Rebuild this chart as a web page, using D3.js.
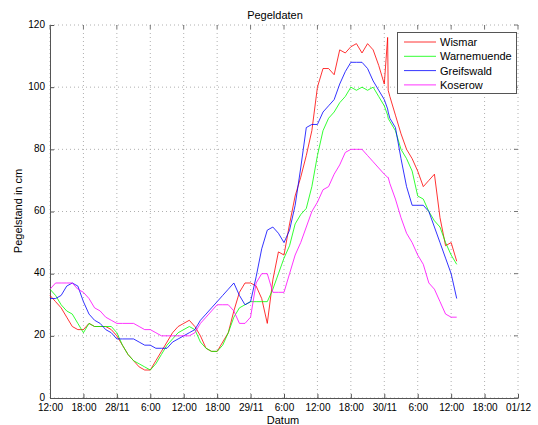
<!DOCTYPE html>
<html>
<head>
<meta charset="utf-8">
<script src="https://cdn.jsdelivr.net/npm/d3@7"></script>
<style>
	body { margin: 0; background: #fff; }
	text { font-family: "Liberation Sans", Arial, sans-serif; fill: #000; }
</style>
</head>
<body>
<svg width="538" height="425"></svg>
<script>
// hours since 27/11 12:00
var hours = [0, 1, 2, 3, 4, 5, 6, 7, 8, 9, 10, 11, 12, 13, 14, 15, 16, 17, 18, 19,
	20, 21, 22, 23, 24, 25, 26, 27, 28, 29, 30, 31, 32, 33, 34, 35, 36, 37, 38, 39,
	40, 41, 42, 43, 44, 45, 46, 47, 48, 49, 50, 51, 52, 53, 54, 55, 56, 57, 58, 59,
	60, 60.6, 60.7, 61, 62, 63, 64, 65, 66, 67, 68, 69, 70, 71, 72, 73]

var wismar = [33, 31, 29, 26, 23, 22, 22, 24, 23, 23, 23, 22, 20, 17, 14, 12, 10, 9, 9, 12,
	15, 18, 21, 23, 24, 25, 23, 20, 16, 15, 15, 18, 21, 28, 34, 37, 37, 36, 32, 24,
	38, 47, 46, 56, 65, 71, 78, 86, 100, 106, 106, 104, 112, 111, 113, 114, 111, 114, 112, 107,
	101, 116, 99, 97, 91, 85, 80, 77, 73, 68, 70, 72, 58, 49, 50, 44]

var warnemuende = [35, 33, 30, 28, 27, 24, 21, 24, 23, 23, 23, 23, 21, 17, 14, 12, 11, 10, 9, 11,
	14, 17, 19, 21, 22, 23, 22, 18, 16, 15, 15, 17, 21, 26, 29, 30, 31, 31, 31, 31,
	35, 40, 45, 49, 56, 59, 61, 68, 78, 86, 90, 92, 95, 97, 100, 99, 100, 99, 100, 97,
	94, 91, 90, 89, 86, 80, 77, 73, 65, 64, 60, 57, 55, 50, 46, 43]

var greifswald = [32, 32, 33, 36, 37, 36, 31, 27, 25, 24, 22, 21, 19, 19, 19, 19, 18, 17, 17, 16,
	16, 16, 18, 19, 20, 21, 22, 25, 27, 29, 31, 33, 35, 37, 33, 30, 31, 39, 48, 54,
	55, 53, 50, 54, 62, 74, 87, 88, 88, 92, 94, 96, 101, 105, 108, 108, 108, 106, 102, 99,
	96, 93, 92, 90, 87, 77, 68, 62, 62, 62, 60, 55, 50, 45, 40, 32]

var koserow = [35, 37, 37, 37, 37, 35, 34, 32, 29, 28, 26, 25, 24, 24, 24, 24, 23, 22, 22, 21,
	20, 20, 20, 20, 20, 20, 21, 24, 26, 28, 30, 30, 30, 28, 24, 24, 26, 37, 40, 40,
	34, 34, 34, 40, 46, 50, 55, 60, 63, 67, 68, 72, 75, 79, 80, 80, 80, 78, 76, 74,
	72, 71, 71, 69, 64, 58, 53, 50, 46, 43, 37, 35, 31, 27, 26, 26]

var seriesNames = ["Wismar", "Warnemuende", "Greifswald", "Koserow"]
var seriesColors = ["#ff0000", "#00ff00", "#0000ff", "#ff00ff"]
var seriesValues = [wismar, warnemuende, greifswald, koserow]

var xTickHours = [0, 6, 12, 18, 24, 30, 36, 42, 48, 54, 60, 66, 72, 78, 84]
var xTickLabels = ["12:00", "18:00", "28/11", "6:00", "12:00", "18:00", "29/11", "6:00",
	"12:00", "18:00", "30/11", "6:00", "12:00", "18:00", "01/12"]
var yTicks = [0, 20, 40, 60, 80, 100, 120]

function drawChart() {
	var pLeft = 50, pRight = 518, pTop = 25, pBottom = 398

	var x = d3.scaleLinear().domain([0, 84]).range([pLeft, pRight])
	var y = d3.scaleLinear().domain([0, 120]).range([pBottom, pTop])

	var svg = d3.select("svg")

	// grid
	var grid = svg.append("g")
	xTickHours.forEach(function(h) {
		grid.append("line")
			.attr("x1", x(h)).attr("x2", x(h))
			.attr("y1", pTop).attr("y2", pBottom)
			.attr("stroke", "#b0b0b0").attr("stroke-width", 1)
			.attr("stroke-dasharray", "1,3")
	})
	yTicks.forEach(function(v) {
		grid.append("line")
			.attr("x1", pLeft).attr("x2", pRight)
			.attr("y1", y(v)).attr("y2", y(v))
			.attr("stroke", "#b0b0b0").attr("stroke-width", 1)
			.attr("stroke-dasharray", "1,3")
	})

	// axes
	svg.append("g")
		.attr("transform", "translate(0," + pBottom + ")")
		.call(d3.axisBottom(x).tickValues(xTickHours).tickSizeInner(-4).tickSizeOuter(0).tickPadding(6)
			.tickFormat(function(d, i) { return xTickLabels[i] }))
	var yAxisG = svg.append("g")
		.attr("transform", "translate(" + pLeft + ",0)")
		.call(d3.axisLeft(y).tickValues(yTicks).tickSizeInner(-4).tickSizeOuter(0).tickPadding(5))
	yAxisG.selectAll(".tick text").attr("dy", "0.2em")

	svg.selectAll(".domain").attr("stroke", "#555")
	svg.selectAll(".tick line").attr("stroke", "#555")
	svg.selectAll(".tick text").attr("font-size", "10px").attr("font-family", "Liberation Sans, Arial, sans-serif")

	// small ticks along top and right
	xTickHours.forEach(function(h) {
		svg.append("line").attr("x1", x(h)).attr("x2", x(h)).attr("y1", pTop).attr("y2", pTop + 4)
			.attr("stroke", "#777")
	})
	yTicks.forEach(function(v) {
		svg.append("line").attr("x1", pRight - 4).attr("x2", pRight).attr("y1", y(v)).attr("y2", y(v))
			.attr("stroke", "#777")
	})

	// lines
	var line = d3.line()
		.x(function(d) { return x(d[0]) })
		.y(function(d) { return y(d[1]) })

	seriesValues.forEach(function(vals, i) {
		svg.append("path")
			.datum(d3.zip(hours, vals))
			.attr("d", line)
			.attr("fill", "none")
			.attr("stroke", seriesColors[i])
			.attr("stroke-width", 0.8)
			.attr("stroke-linejoin", "round")
	})

	// labels
	svg.append("text").attr("x", 275).attr("y", 19).attr("text-anchor", "middle")
		.attr("font-size", "11px").text("Pegeldaten")
	svg.append("text").attr("x", 283).attr("y", 424).attr("text-anchor", "middle")
		.attr("font-size", "11px").text("Datum")
	svg.append("text").attr("transform", "translate(22,211) rotate(-90)").attr("text-anchor", "middle")
		.attr("font-size", "11px").text("Pegelstand in cm")

	// legend
	var legend = svg.append("g")
	legend.append("rect").attr("x", 397.5).attr("y", 32.5).attr("width", 119).attr("height", 61)
		.attr("fill", "#fff").attr("stroke", "#555")
	seriesNames.forEach(function(name, i) {
		var ly = 42 + i * 14.3
		legend.append("line").attr("x1", 404).attr("x2", 436).attr("y1", ly).attr("y2", ly)
			.attr("stroke", seriesColors[i]).attr("stroke-width", 0.8)
		legend.append("text").attr("x", 440).attr("y", ly + 4).attr("font-size", "11px").text(name)
	})
}

drawChart()
</script>
</body>
</html>
